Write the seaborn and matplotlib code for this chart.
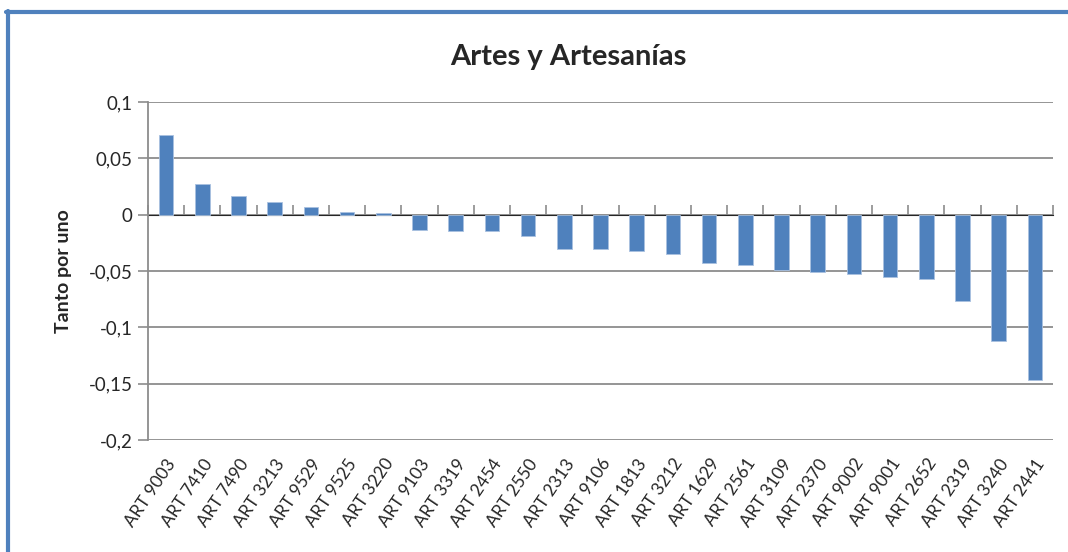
import matplotlib
matplotlib.use("Agg")
import matplotlib.pyplot as plt
import matplotlib.lines as mlines
import numpy as np
import pandas as pd
import seaborn as sns

codes = ["ART 9003", "ART 7410", "ART 7490", "ART 3213", "ART 9529", "ART 9525",
         "ART 3220", "ART 9103", "ART 3319", "ART 2454", "ART 2550", "ART 2313",
         "ART 9106", "ART 1813", "ART 3212", "ART 1629", "ART 2561", "ART 3109",
         "ART 2370", "ART 9002", "ART 9001", "ART 2652", "ART 2319", "ART 3240",
         "ART 2441"]
tanto = [0.0709, 0.0273, 0.0162, 0.0109, 0.0068, 0.0027, 0.0015, -0.0138,
         -0.0147, -0.0147, -0.0188, -0.0302, -0.0302, -0.0323, -0.0353, -0.0426,
         -0.0446, -0.0488, -0.0505, -0.0526, -0.0549, -0.0570, -0.0764, -0.1125,
         -0.1464]
yticks = [0.1, 0.05, 0, -0.05, -0.1, -0.15, -0.2]
ytick_labels = ["0,1", "0,05", "0", "-0,05", "-0,1", "-0,15", "-0,2"]

sns.set_style("white")
plt.rcParams["font.family"] = ["Lato", "DejaVu Sans"]

df = pd.DataFrame({"codigo": codes, "tanto": tanto})

fig = plt.figure(figsize=(10.68, 5.52), dpi=100)
ax = fig.add_axes([148 / 1068, 1 - 440 / 552, (1053 - 148) / 1068, (440 - 102) / 552])

grid_c = "#8c8c8c"
for v in yticks:
    ax.axhline(v, color=grid_c, lw=1.3, zorder=0)

sns.barplot(data=df, x="codigo", y="tanto", color="#4F81BD", width=0.4,
            saturation=1, edgecolor="#a9c1e0", linewidth=0.6, ax=ax, zorder=2)

ax.set_xlim(-0.5, len(codes) - 0.5)
ax.set_ylim(-0.2, 0.1)
ax.set_yticks(yticks)
ax.set_yticklabels(ytick_labels, fontsize=13.5)
ax.tick_params(axis="y", left=True, length=7, width=1.2, color=grid_c, pad=4)
ax.set_xticks(range(len(codes)))
ax.set_xticklabels(codes, rotation=56, ha="right", rotation_mode="anchor", fontsize=12.5)
ax.tick_params(axis="x", bottom=False, pad=8)
ax.set_xlabel("")
ax.set_ylabel("Tanto por uno", fontsize=14, fontweight="bold", labelpad=12)

for s in ["top", "right", "bottom"]:
    ax.spines[s].set_visible(False)
ax.spines["left"].set_color(grid_c)
ax.spines["left"].set_linewidth(1.3)

# category tick marks on the zero line
sec = ax.secondary_xaxis(2 / 3)
sec.set_xticks(np.arange(-0.5, len(codes), 1.0))
sec.set_xticklabels([])
sec.tick_params(direction="out", length=7, width=1.2, color=grid_c)
sec.spines["bottom"].set_visible(False)

fig.text(568 / 1068, 1 - 57 / 552, "Artes y Artesanías", ha="center", va="center",
         fontsize=21, fontweight="bold")

# outer chart border
fig.add_artist(mlines.Line2D([8 / 1068, 8 / 1068], [0, 1 - 11 / 552],
                             color="#4F81BD", lw=3, transform=fig.transFigure))
fig.add_artist(mlines.Line2D([6 / 1068, 1], [1 - 12 / 552, 1 - 12 / 552],
                             color="#4F81BD", lw=3, transform=fig.transFigure))

fig.savefig("out.png", dpi=100)
